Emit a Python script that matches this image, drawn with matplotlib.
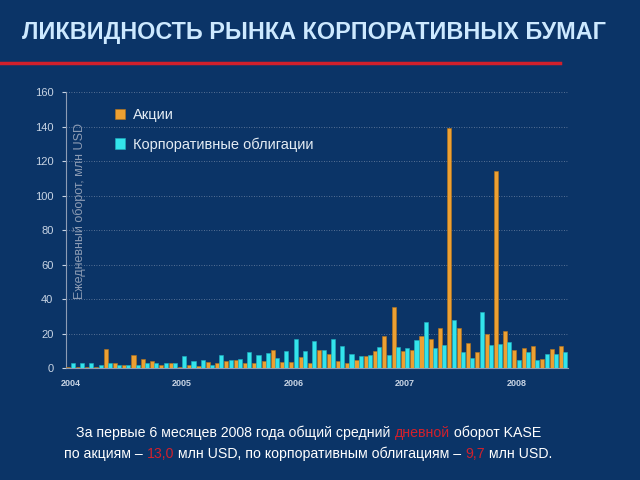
import numpy as np
import matplotlib.pyplot as plt
from matplotlib.lines import Line2D

plt.rcParams['font.family'] = ['Liberation Sans', 'DejaVu Sans']

# Ежемесячные значения, янв 2004 - июн 2008 (млн USD)
years = ['2004', '2005', '2006', '2007', '2008']
stocks = [0.5, 0.5, 0.5, 0.5, 11, 3, 2, 7.3, 5.4, 4, 2, 3,
          0.5, 2, 1, 3.7, 3, 4, 4.5, 3, 3, 4, 10.4, 3.3,
          3.3, 6.2, 3, 10.2, 8, 4.3, 3, 4.8, 6.8, 9.6, 18.4, 35.5,
          9.7, 10.4, 18.5, 16.6, 23, 139, 23, 14.3, 9.5, 19.7, 114, 21.6,
          10.4, 11.4, 12.9, 5.2, 11, 12.9]
bonds = [3, 3, 3, 2, 3, 2, 2, 2, 3, 3, 3, 3,
         7, 4, 4.6, 2, 7.7, 4.5, 5.2, 9, 7.3, 8.5, 5.6, 10,
         16.6, 10, 15.6, 10.2, 16.9, 13, 8, 6.8, 7.3, 12, 7.5, 12.4,
         11.4, 16.2, 26.9, 11.4, 13.3, 27.8, 9.5, 6, 32.3, 13.3, 13.7, 14.9,
         4.6, 9.1, 4.6, 8.1, 7.9, 9.5]
legend_labels = ['Акции', 'Корпоративные облигации']

bg = '#0b3467'
orange = '#eda032'
cyan = '#33e4ec'
light = '#c8d4e4'
red = '#d2202c'

fig = plt.figure(figsize=(6.4, 4.8), dpi=100, facecolor=bg)

# заголовок и красная линия
fig.text(0.034, 0.933, 'ЛИКВИДНОСТЬ РЫНКА КОРПОРАТИВНЫХ БУМАГ', color='#cde9ff',
         fontsize=16.8, fontweight='bold', va='center', ha='left')
fig.add_artist(Line2D([0, 0.875], [0.868, 0.868], color=red, lw=2.5,
                      transform=fig.transFigure))

ax = fig.add_axes([0.103, 0.2333, 0.784, 0.575])
ax.set_facecolor(bg)
x = np.arange(len(stocks))
ax.bar(x + 0.27, stocks, width=0.44, color=orange, edgecolor='#b87418', linewidth=0.4,
       label=legend_labels[0], zorder=3)
ax.bar(x + 0.73, bonds, width=0.44, color=cyan, edgecolor='#1fb0c0', linewidth=0.4,
       label=legend_labels[1], zorder=3)

ax.set_xlim(0, len(stocks))
ax.set_ylim(0, 160)
ax.set_yticks(range(0, 161, 20))
ax.set_xticks([i * 12 + 0.5 for i in range(len(years))])
ax.set_xticklabels(years, fontsize=6.5, fontweight='bold', color=light)
ax.tick_params(axis='y', colors=light, labelsize=8, length=3, pad=6)
ax.tick_params(axis='x', length=0, pad=8)
ax.grid(axis='y', color='#6f84a4', linestyle=(0, (1, 2)), linewidth=0.6, zorder=0)
for s in ['top', 'right']:
    ax.spines[s].set_visible(False)
ax.spines['left'].set_color('#8d9cb4')
ax.spines['bottom'].set_color('#8d9cb4')

ax.text(0.028, 0.569, 'Ежедневный оборот, млн USD', transform=ax.transAxes, rotation=90,
        color='#8d9cb4', fontsize=9, ha='center', va='center')

leg = ax.legend(loc='upper left', bbox_to_anchor=(0.072, 0.99), frameon=False,
                fontsize=10.5, labelcolor='#e4ecf4', handlelength=0.7, handleheight=0.7,
                labelspacing=1.05, handletextpad=0.5)

# нижний текст с цветными фрагментами
renderer = fig.canvas.get_renderer()


def colored_line(y, parts, size=10.2, center=0.482):
    items = []
    total = 0
    for s, c in parts:
        t = fig.text(0, y, s, color=c, fontsize=size, va='center', ha='left')
        w = t.get_window_extent(renderer).width / fig.bbox.width
        items.append((t, w))
        total += w
    pos = center - total / 2
    for t, w in items:
        t.set_x(pos)
        pos += w


colored_line(0.098, [('За первые 6 месяцев 2008 года общий средний ', 'white'),
                     ('дневной', red), (' оборот KASE', 'white')])
colored_line(0.054, [('по акциям – ', 'white'), ('13,0', red),
                     (' млн USD, по корпоративным облигациям – ', 'white'),
                     ('9,7', red), (' млн USD.', 'white')])

fig.savefig('out.png', dpi=100, facecolor=bg)
